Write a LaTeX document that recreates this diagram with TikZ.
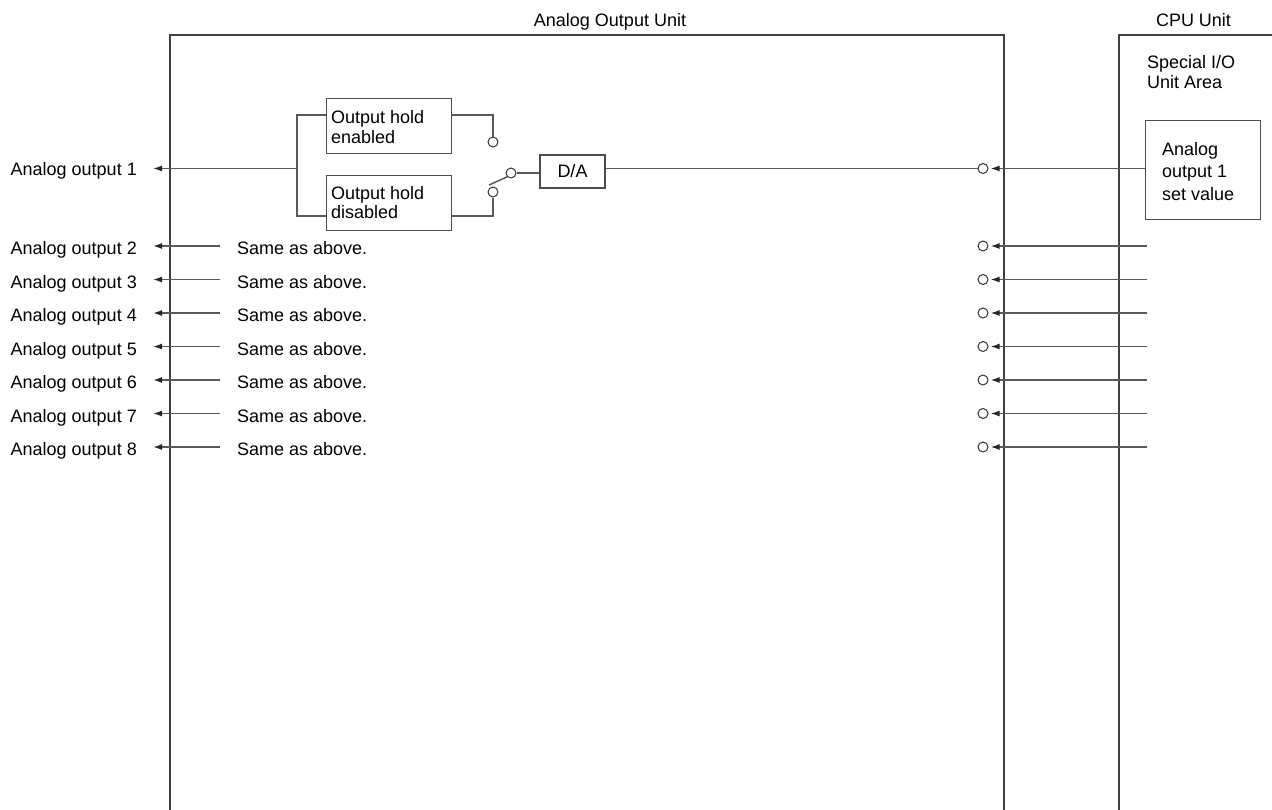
\documentclass[tikz,border=0pt]{standalone}
\usepackage{fontspec}
\setmainfont{Liberation Sans}
\usetikzlibrary{arrows.meta}
\begin{document}
\begin{tikzpicture}[x=1pt,y=-1pt,
  ln/.style={line width=1.5pt, draw=black!65},
  frame/.style={line width=1.4pt, draw=black!75},
  box/.style={rectangle, draw=black!70, line width=1.3pt, inner sep=0pt, anchor=north west},
  term/.style={circle, draw=black!80, line width=1pt, fill=white, minimum size=10pt, inner sep=0pt},
  arr/.style={ln, -{Latex[length=9pt,width=6pt,color=black!85]}},
  lbl/.style={inner sep=0pt, font=\fontsize{18}{20}\selectfont}]
\useasboundingbox (0,0) rectangle (1272,809);
% titles
\node[lbl, anchor=base] (titleA) at (610,26.5) {Analog Output Unit};
\node[lbl, anchor=base] (titleC) at (1193.5,26.5) {CPU Unit};
% frames
\draw[frame] (170,812) -- (170,35) -- (1004,35) -- (1004,812);
\draw[frame] (1275,35) -- (1119,35) -- (1119,812);
% CPU side
\node[lbl, anchor=base west] (sp1) at (1147,68) {Special I/O};
\node[lbl, anchor=base west] (sp2) at (1147,88) {Unit Area};
\node[box, minimum width=115pt, minimum height=99pt] (sv) at (1145,120) {};
\node[lbl, anchor=base west] (sv1) at (1162,155) {Analog};
\node[lbl, anchor=base west] (sv2) at (1162,177.5) {output 1};
\node[lbl, anchor=base west] (sv3) at (1162,200) {set value};
% row 1 terminal
\node[term] (c1) at (983,168.5) {};
\coordinate (r1) at (1145,168.5);
\draw[arr, shorten >=2pt] (r1) -- (c1.east);
% D/A and switch
\node[box, anchor=center, minimum width=65pt, minimum height=33pt, font=\fontsize{18}{20}\selectfont] (da) at (572.5,171.5) {D/A};
\draw[ln] (da.east |- c1) -- (c1.west);
\node[term] (sw) at (511,173) {};
\draw[ln] (sw.east) -- (da.west |- sw);
\node[term] (up) at (493,142) {};
\node[term] (lo) at (493,192) {};
\coordinate (lev) at (489,185);
\draw[ln] (sw.south west) -- (lev);
% hold boxes
\node[box, minimum width=125pt, minimum height=55pt] (en) at (326,98) {};
\node[lbl, anchor=base west] (en1) at (331,123.5) {Output hold};
\node[lbl, anchor=base west] (en2) at (331,143) {enabled};
\node[box, minimum width=125pt, minimum height=55pt] (dis) at (326,175) {};
\node[lbl, anchor=base west] (dis1) at (331,199) {Output hold};
\node[lbl, anchor=base west] (dis2) at (331,218.5) {disabled};
\coordinate (enR) at (451,115);
\coordinate (disR) at (451,216);
\draw[ln] (enR) -| (up.north);
\draw[ln] (disR) -| (lo.south);
\coordinate (bt) at (297,115);
\coordinate (bb) at (297,216);
\draw[ln] (en.west |- bt) -- (bt) -- (bb) -- (dis.west |- bb);
\coordinate (b1) at (297,168.5);
\coordinate (t1) at (153,168.5);
\draw[arr] (b1) -- (t1);
\node[lbl, anchor=base east] (ao1) at (137,175.5) {Analog output 1};
% rows 2-8
\foreach \n/\y in {2/246,3/279.5,4/313,5/346.5,6/380,7/413.5,8/447}{
  \node[lbl, anchor=base east] (ao\n) at (137,\y+8.5) {Analog output \n};
  \coordinate (s\n) at (220,\y);
  \coordinate (t\n) at (153,\y);
  \draw[arr] (s\n) -- (t\n);
  \node[lbl, anchor=base west] (same\n) at (237,\y+8.5) {Same as above.};
  \node[term] (c\n) at (983,\y) {};
  \coordinate (r\n) at (1147,\y);
  \draw[arr, shorten >=2pt] (r\n) -- (c\n.east);
}
\end{tikzpicture}
\end{document}
